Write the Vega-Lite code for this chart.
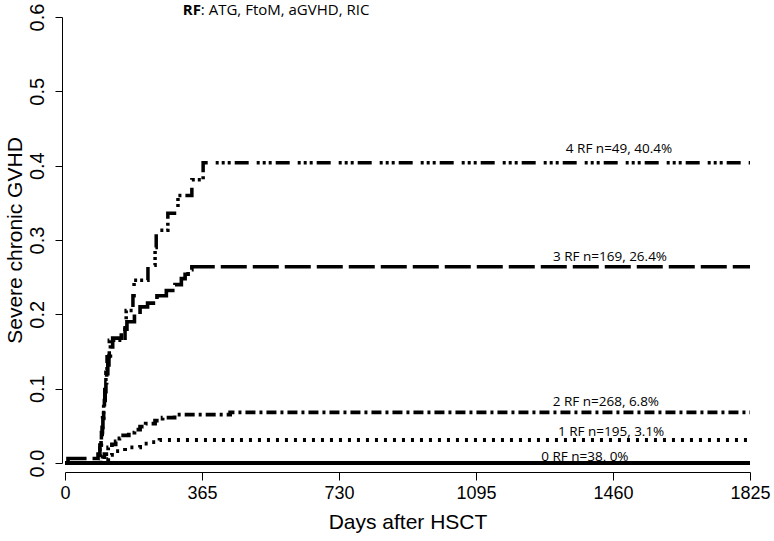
{
  "$schema": "https://vega.github.io/schema/vega-lite/v6.json",
  "width": 685,
  "height": 446,
  "autosize": {"type": "none"},
  "padding": {"left": 65, "top": 17, "right": 24, "bottom": 78},
  "background": "white",
  "config": {
    "view": {"stroke": null},
    "axis": {"grid": false, "domainColor": "black", "tickColor": "black", "labelColor": "black", "titleColor": "black", "titleFontWeight": "normal"}
  },
  "datasets": {
    "curves": [
      {"g": "RF0", "day": 0, "cif": 0}, {"g": "RF0", "day": 1825, "cif": 0},
      {"g": "RF1", "day": 0, "cif": 0}, {"g": "RF1", "day": 100, "cif": 0.005}, {"g": "RF1", "day": 115, "cif": 0.011}, {"g": "RF1", "day": 125, "cif": 0.016}, {"g": "RF1", "day": 160, "cif": 0.021}, {"g": "RF1", "day": 200, "cif": 0.026}, {"g": "RF1", "day": 230, "cif": 0.028}, {"g": "RF1", "day": 252, "cif": 0.031}, {"g": "RF1", "day": 1825, "cif": 0.031},
      {"g": "RF2", "day": 0, "cif": 0}, {"g": "RF2", "day": 95, "cif": 0.004}, {"g": "RF2", "day": 100, "cif": 0.008}, {"g": "RF2", "day": 105, "cif": 0.012}, {"g": "RF2", "day": 110, "cif": 0.016}, {"g": "RF2", "day": 115, "cif": 0.021}, {"g": "RF2", "day": 125, "cif": 0.025}, {"g": "RF2", "day": 135, "cif": 0.029}, {"g": "RF2", "day": 145, "cif": 0.033}, {"g": "RF2", "day": 155, "cif": 0.037}, {"g": "RF2", "day": 170, "cif": 0.041}, {"g": "RF2", "day": 185, "cif": 0.045}, {"g": "RF2", "day": 200, "cif": 0.049}, {"g": "RF2", "day": 215, "cif": 0.053}, {"g": "RF2", "day": 240, "cif": 0.057}, {"g": "RF2", "day": 260, "cif": 0.061}, {"g": "RF2", "day": 292, "cif": 0.065}, {"g": "RF2", "day": 440, "cif": 0.068}, {"g": "RF2", "day": 1825, "cif": 0.068},
      {"g": "RF3", "day": 0, "cif": 0}, {"g": "RF3", "day": 8, "cif": 0.006}, {"g": "RF3", "day": 88, "cif": 0.012}, {"g": "RF3", "day": 93, "cif": 0.024}, {"g": "RF3", "day": 96, "cif": 0.036}, {"g": "RF3", "day": 99, "cif": 0.048}, {"g": "RF3", "day": 101, "cif": 0.06}, {"g": "RF3", "day": 103, "cif": 0.072}, {"g": "RF3", "day": 105, "cif": 0.084}, {"g": "RF3", "day": 107, "cif": 0.096}, {"g": "RF3", "day": 109, "cif": 0.108}, {"g": "RF3", "day": 111, "cif": 0.12}, {"g": "RF3", "day": 114, "cif": 0.132}, {"g": "RF3", "day": 117, "cif": 0.144}, {"g": "RF3", "day": 121, "cif": 0.156}, {"g": "RF3", "day": 127, "cif": 0.168}, {"g": "RF3", "day": 150, "cif": 0.18}, {"g": "RF3", "day": 165, "cif": 0.19}, {"g": "RF3", "day": 185, "cif": 0.2}, {"g": "RF3", "day": 200, "cif": 0.21}, {"g": "RF3", "day": 220, "cif": 0.215}, {"g": "RF3", "day": 245, "cif": 0.225}, {"g": "RF3", "day": 270, "cif": 0.232}, {"g": "RF3", "day": 293, "cif": 0.24}, {"g": "RF3", "day": 310, "cif": 0.248}, {"g": "RF3", "day": 320, "cif": 0.254}, {"g": "RF3", "day": 328, "cif": 0.26}, {"g": "RF3", "day": 338, "cif": 0.264}, {"g": "RF3", "day": 1825, "cif": 0.264},
      {"g": "RF4", "day": 0, "cif": 0}, {"g": "RF4", "day": 93, "cif": 0.02}, {"g": "RF4", "day": 97, "cif": 0.041}, {"g": "RF4", "day": 100, "cif": 0.061}, {"g": "RF4", "day": 103, "cif": 0.082}, {"g": "RF4", "day": 106, "cif": 0.102}, {"g": "RF4", "day": 109, "cif": 0.122}, {"g": "RF4", "day": 112, "cif": 0.143}, {"g": "RF4", "day": 118, "cif": 0.165}, {"g": "RF4", "day": 160, "cif": 0.185}, {"g": "RF4", "day": 163, "cif": 0.205}, {"g": "RF4", "day": 181, "cif": 0.225}, {"g": "RF4", "day": 184, "cif": 0.246}, {"g": "RF4", "day": 221, "cif": 0.266}, {"g": "RF4", "day": 240, "cif": 0.29}, {"g": "RF4", "day": 243, "cif": 0.313}, {"g": "RF4", "day": 274, "cif": 0.336}, {"g": "RF4", "day": 301, "cif": 0.36}, {"g": "RF4", "day": 338, "cif": 0.381}, {"g": "RF4", "day": 368, "cif": 0.404}, {"g": "RF4", "day": 1825, "cif": 0.404}
    ],
    "labels": [
      {"label": "4 RF n=49, 40.4%", "day": 1476, "cif": 0.4225},
      {"label": "3 RF n=169, 26.4%", "day": 1452, "cif": 0.2775},
      {"label": "2 RF n=268, 6.8%", "day": 1441, "cif": 0.082},
      {"label": "1 RF n=195, 3.1%", "day": 1455, "cif": 0.0415},
      {"label": "0 RF n=38, 0%", "day": 1385, "cif": 0.0085}
    ],
    "title": [
      {"part": "RF", "day": 362, "cif": 0.6027},
      {"part": ": ATG, FtoM, aGVHD, RIC", "day": 362, "cif": 0.6027}
    ]
  },
  "layer": [
    {
      "data": {"name": "curves"},
      "mark": {"type": "line", "interpolate": "step-after", "color": "black", "strokeCap": "butt"},
      "encoding": {
        "x": {
          "field": "day", "type": "quantitative",
          "scale": {"domain": [0, 1825], "nice": false, "zero": false},
          "axis": {"values": [0, 365, 730, 1095, 1460, 1825], "format": "d", "title": "Days after HSCT", "offset": 9, "tickSize": 8, "labelPadding": 4, "labelFont": "Liberation Sans", "labelFontSize": 18, "titleFont": "Liberation Sans", "titleFontSize": 21, "titlePadding": 9, "labelFlush": false}
        },
        "y": {
          "field": "cif", "type": "quantitative",
          "scale": {"domain": [0, 0.6], "nice": false},
          "axis": {"values": [0, 0.1, 0.2, 0.3, 0.4, 0.5, 0.6], "format": ".1f", "title": "Severe chronic GVHD", "offset": 3, "tickSize": 7, "labelAngle": -90, "labelAlign": "center", "labelBaseline": "bottom", "labelPadding": 8, "labelFont": "Liberation Sans", "labelFontSize": 20, "titleFont": "Liberation Sans", "titleFontSize": 21, "titlePadding": 2, "labelFlush": false}
        },
        "strokeDash": {
          "field": "g", "type": "nominal",
          "scale": {"domain": ["RF0", "RF1", "RF2", "RF3", "RF4"], "range": [[1, 0], [3, 6], [10, 4, 3, 4], [26, 6], [3, 3, 3, 3, 3, 4, 14, 8]]},
          "legend": null
        },
        "strokeWidth": {
          "field": "g", "type": "nominal",
          "scale": {"domain": ["RF0", "RF1", "RF2", "RF3", "RF4"], "range": [4, 3.5, 3.5, 3.5, 3.5]},
          "legend": null
        }
      }
    },
    {
      "data": {"name": "labels"},
      "mark": {"type": "text", "font": "Open Sans", "fontSize": 13.5, "align": "center", "baseline": "middle", "color": "black"},
      "encoding": {
        "x": {"field": "day", "type": "quantitative"},
        "y": {"field": "cif", "type": "quantitative"},
        "text": {"field": "label", "type": "nominal"}
      }
    },
    {
      "data": {"name": "title"},
      "transform": [{"filter": "datum.part == 'RF'"}],
      "mark": {"type": "text", "font": "Open Sans", "fontSize": 15, "fontWeight": "bold", "align": "right", "baseline": "alphabetic", "color": "black"},
      "encoding": {
        "x": {"field": "day", "type": "quantitative"},
        "y": {"field": "cif", "type": "quantitative"},
        "text": {"field": "part", "type": "nominal"}
      }
    },
    {
      "data": {"name": "title"},
      "transform": [{"filter": "datum.part != 'RF'"}],
      "mark": {"type": "text", "font": "Open Sans", "fontSize": 15, "align": "left", "baseline": "alphabetic", "color": "black"},
      "encoding": {
        "x": {"field": "day", "type": "quantitative"},
        "y": {"field": "cif", "type": "quantitative"},
        "text": {"field": "part", "type": "nominal"}
      }
    }
  ]
}
